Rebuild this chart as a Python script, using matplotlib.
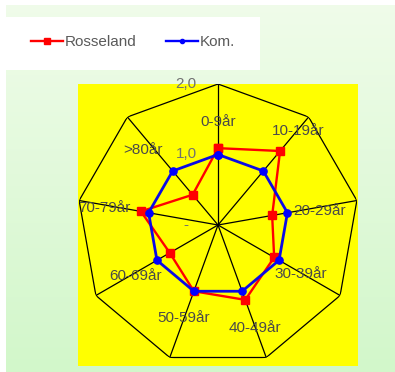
import numpy as np
import matplotlib
matplotlib.use("Agg")
import matplotlib.pyplot as plt
from matplotlib.patches import Rectangle
from matplotlib.lines import Line2D
from matplotlib.transforms import offset_copy

# Age groups and index values (municipality = 1.0)
categories = ["0-9år", "10-19år", "20-29år", "30-39år", "40-49år",
              "50-59år", "60-69år", "70-79år", ">80år"]
rosseland = [1.09, 1.37, 0.78, 0.92, 1.13, 1.00, 0.79, 1.11, 0.56]
kommune = [1.00, 1.00, 1.00, 1.00, 1.00, 1.00, 1.00, 1.00, 1.00]
r_ticks = [0.0, 1.0, 2.0]
r_tick_labels = ["-", "1,0", "2,0"]
series_names = ["Rosseland", "Kom."]

plt.rcParams["font.family"] = ["Liberation Sans", "DejaVu Sans"]

W, H = 395, 372
fig = plt.figure(figsize=(W / 100, H / 100), dpi=100)

# Light green gradient background with white margin strips
bg = fig.add_axes([0, 0, 1, 1], zorder=-10)
top = np.array([240, 252, 234]) / 255
bottom = np.array([210, 247, 202]) / 255
t = np.linspace(0, 1, 256)[:, None, None]
img = top + (bottom - top) * t
bg.imshow(img, aspect="auto", extent=[0, 1, 0, 1])
bg.set_xlim(0, 1)
bg.set_ylim(0, 1)
bg.axis("off")
bg.add_patch(Rectangle((0, 0), 6 / W, 1, color="white", lw=0))
bg.add_patch(Rectangle((0, 1 - 5 / H), 1, 5 / H, color="white", lw=0))
# legend panel
bg.add_patch(Rectangle((6 / W, 1 - 70 / H), 254 / W, 53 / H, color="white", lw=0))
# plot area
bg.add_patch(Rectangle((78 / W, 1 - 366 / H), 280 / W, 282 / H, color="#ffff00", lw=0))

# Radar axes centred in the plot area
cx, cy, R = 218, 225, 141
ax = fig.add_axes([(cx - R) / W, (H - cy - R) / H, 2 * R / W, 2 * R / H],
                  projection="polar")
ax.set_theta_zero_location("N")
ax.set_theta_direction(-1)
ax.set_ylim(0, r_ticks[-1])
ax.grid(False)
ax.spines["polar"].set_visible(False)
ax.set_xticks([])
ax.set_yticks([])
ax.patch.set_alpha(0)

n = len(categories)
theta = 2 * np.pi * np.arange(n) / n
theta_c = np.append(theta, theta[0])

for th in theta:
    ax.plot([th, th], [0, r_ticks[-1]], color="black", lw=0.9, zorder=1)
ax.plot(theta_c, [r_ticks[-1]] * (n + 1), color="black", lw=0.9, zorder=1)

red_vals = np.append(rosseland, rosseland[0])
blue_vals = np.append(kommune, kommune[0])
ax.plot(theta_c, red_vals, color="#ff0000", lw=1.7, marker="s", ms=5.2,
        zorder=3, clip_on=False)
ax.plot(theta_c, blue_vals, color="#0a0ae6", lw=2.0, marker="o", ms=5.2,
        mfc="#0000ff", mec="#0000ff", zorder=4, clip_on=False)

# Category labels (compass angle in degrees, radius)
label_pos = [(0, 1.46), (40.4, 1.75), (82.2, 1.46), (120.6, 1.37), (160.2, 1.55),
             (200.1, 1.40), (238.3, 1.38), (278.5, 1.63), (315, 1.50)]
for name, (ang, rr) in zip(categories, label_pos):
    ax.text(np.deg2rad(ang), rr, name, ha="center", va="center",
            fontsize=11, color="#4a4a4a", zorder=5, clip_on=False)

# Radial value labels, left of the vertical axis
tick_tr = offset_copy(ax.transData, fig=fig, x=-32, y=0, units="dots")
for rv, lab in zip(r_ticks, r_tick_labels):
    ax.text(0, rv, lab, transform=tick_tr, ha="center", va="center",
            fontsize=11, color="#707070", zorder=5, clip_on=False)

handles = [Line2D([], [], color="#ff0000", lw=1.7, marker="s", ms=4),
           Line2D([], [], color="#0000ff", lw=1.7, marker="o", ms=3)]
fig.legend(handles, series_names, loc="center left",
           bbox_to_anchor=(31 / W, 1 - 42 / H), ncol=2, frameon=False,
           borderpad=0, borderaxespad=0, handlelength=2.1, handletextpad=0.12,
           columnspacing=1.9, fontsize=11, labelcolor="#5a5a5a")

fig.savefig("out.png", dpi=100)
